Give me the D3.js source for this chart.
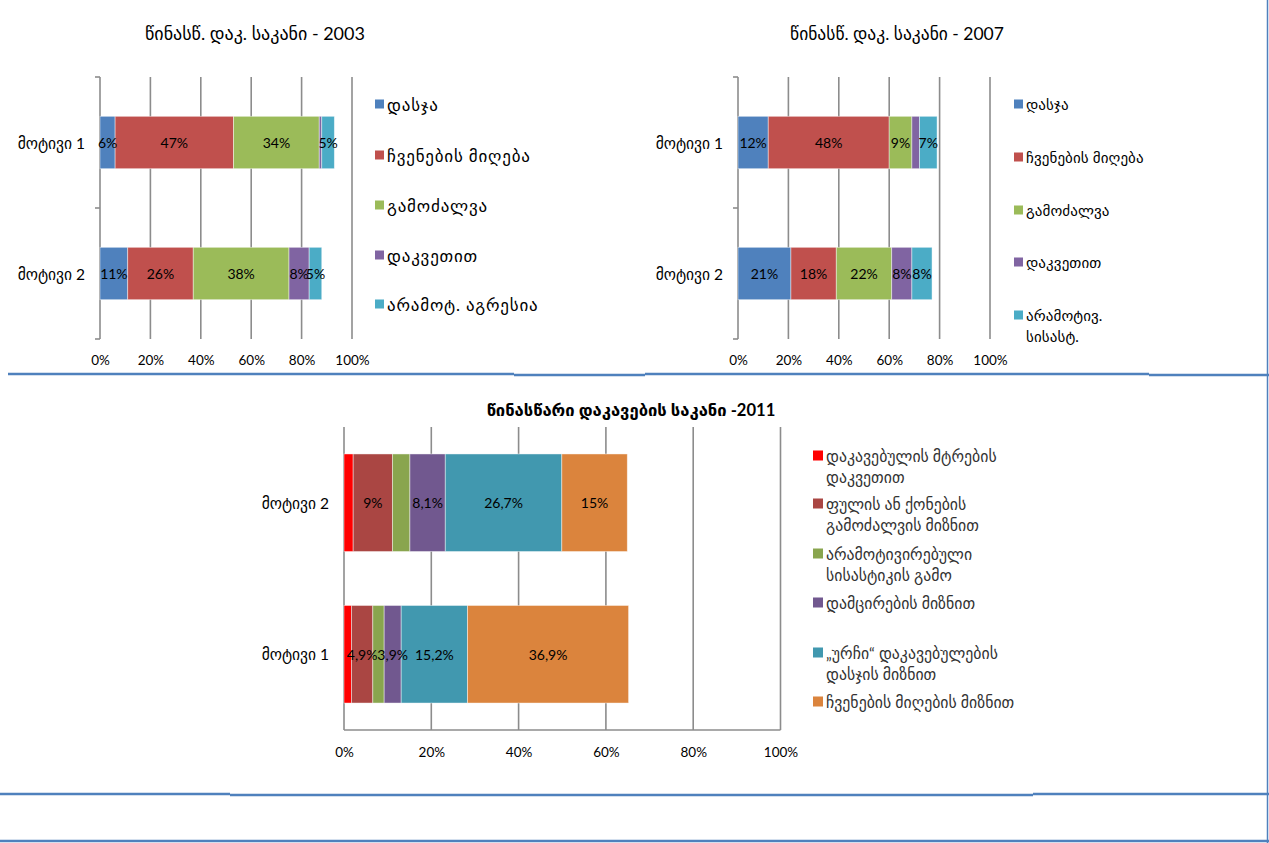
<!DOCTYPE html>
<html>
<head>
<meta charset="utf-8">
<script src="https://cdn.jsdelivr.net/npm/d3@7"></script>
<style>
  html, body { margin: 0; padding: 0; background: #fff; }
  svg { display: block; }
  text { font-family: Lato, "DejaVu Sans", sans-serif; }
</style>
</head>
<body>
<svg id="page" width="1269" height="843"></svg>
<script>
// ---- data ----
const categories = ["მოტივი 1", "მოტივი 2"];
const tickValues = [0, 20, 40, 60, 80, 100];

// 2003
const title2003 = "წინასწ. დაკ. საკანი - 2003";
const series2003 = [["დასჯა"], ["ჩვენების მიღება"], ["გამოძალვა"], ["დაკვეთით"], ["არამოტ. აგრესია"]];
const motive1_2003 = [6, 47, 34, 1, 5];
const motive2_2003 = [11, 26, 38, 8, 5];
const shown1_2003 = [true, true, true, false, true];
const shown2_2003 = [true, true, true, true, true];

// 2007
const title2007 = "წინასწ. დაკ. საკანი - 2007";
const series2007 = [["დასჯა"], ["ჩვენების მიღება"], ["გამოძალვა"], ["დაკვეთით"], ["არამოტივ.", "სისასტ."]];
const motive1_2007 = [12, 48, 9, 3, 7];
const motive2_2007 = [21, 18, 22, 8, 8];
const shown1_2007 = [true, true, true, false, true];
const shown2_2007 = [true, true, true, true, true];

// 2011
const title2011 = "წინასწარი დაკავების საკანი -2011";
const categories2011 = ["მოტივი 2", "მოტივი 1"];
const series2011 = [
  ["დაკავებულის მტრების", "დაკვეთით"],
  ["ფულის ან ქონების", "გამოძალვის მიზნით"],
  ["არამოტივირებული", "სისასტიკის გამო"],
  ["დამცირების მიზნით"],
  ["„ურჩი“ დაკავებულების", "დასჯის მიზნით"],
  ["ჩვენების მიღების მიზნით"]
];
const motive1_2011 = [1.7, 4.9, 2.6, 3.9, 15.2, 36.9];
const motive2_2011 = [2.1, 9, 4, 8.1, 26.7, 15];
const shown1_2011 = [false, true, false, true, true, true];
const shown2_2011 = [false, true, false, true, true, true];

const colors5 = ["#4F81BD", "#C0504D", "#9BBB59", "#8064A2", "#4BACC6"];
const colors6 = ["#FF0000", "#AA4643", "#89A54E", "#71588F", "#4198AF", "#DB843D"];

const svg = d3.select("#page");
const GRID = "#8c8c8c";

function fmt(v) { return String(v).replace(".", ",") + "%"; }

function stackRows(cats, rows, shown) {
  // rows[i] = values of category i across series
  const out = [];
  cats.forEach((c, i) => {
    let acc = 0;
    rows[i].forEach((v, s) => {
      out.push({ cat: c, s, x0: acc, x1: acc + v, v, shown: shown[i][s] });
      acc += v;
    });
  });
  return out;
}

function drawChart(o) {
  const g = svg.append("g");
  const x = d3.scaleLinear().domain([0, 100]).range([o.x0, o.x1]);
  const y = d3.scaleBand().domain(o.cats).range([o.y0, o.y1])
    .paddingInner(o.padIn).paddingOuter(o.padIn / 2);

  // vertical gridlines
  g.append("g").selectAll("line").data(tickValues.slice(1)).join("line")
    .attr("x1", d => x(d)).attr("x2", d => x(d))
    .attr("y1", o.y0).attr("y2", o.y1)
    .attr("stroke", GRID).attr("stroke-width", 1.6);

  // category axis line + boundary ticks
  g.append("line").attr("x1", x(0)).attr("x2", x(0)).attr("y1", o.y0).attr("y2", o.y1)
    .attr("stroke", GRID).attr("stroke-width", 1.6);
  if (o.catTicks) {
    const bounds = d3.range(o.cats.length + 1).map(i => o.y0 + i * (o.y1 - o.y0) / o.cats.length);
    g.append("g").selectAll("line").data(bounds).join("line")
      .attr("x1", x(0) - 5).attr("x2", x(0)).attr("y1", d => d).attr("y2", d => d)
      .attr("stroke", GRID).attr("stroke-width", 1.6);
  }
  if (o.baseLine) {
    g.append("line").attr("x1", x(0)).attr("x2", x(100)).attr("y1", o.y1).attr("y2", o.y1)
      .attr("stroke", GRID).attr("stroke-width", 1.6);
  }

  // stacked bars
  const segs = stackRows(o.cats, o.rows, o.shown);
  g.append("g").selectAll("rect").data(segs).join("rect")
    .attr("x", d => x(d.x0)).attr("width", d => x(d.x1) - x(d.x0))
    .attr("y", d => y(d.cat)).attr("height", y.bandwidth())
    .attr("fill", d => o.colors[d.s])
    .attr("stroke", "rgba(255,255,255,0.55)").attr("stroke-width", 0.8);

  g.append("g").selectAll("text").data(segs.filter(d => d.shown)).join("text")
    .attr("x", d => x((d.x0 + d.x1) / 2)).attr("y", d => y(d.cat) + y.bandwidth() / 2)
    .attr("text-anchor", "middle").attr("dominant-baseline", "central")
    .attr("font-size", 14).attr("fill", "#000")
    .text(d => fmt(d.v));

  // x axis labels
  const ax = d3.axisBottom(x).tickValues(tickValues).tickFormat(d => d + "%").tickSize(0).tickPadding(0);
  const axg = g.append("g").attr("transform", `translate(0,${o.tickY})`).call(ax);
  axg.select(".domain").remove();
  axg.selectAll("text").attr("font-size", 13.5).attr("fill", "#000")
    .attr("dy", null).attr("dominant-baseline", "central").attr("font-family", null);

  // category labels
  const ay = d3.axisLeft(y).tickSize(0).tickPadding(0);
  const ayg = g.append("g").attr("transform", `translate(${o.catX},0)`).call(ay);
  ayg.select(".domain").remove();
  ayg.selectAll("text").attr("font-size", 15.5).attr("fill", "#000")
    .attr("dy", null).attr("dominant-baseline", "central").attr("font-family", null);

  // title
  g.append("text").attr("x", o.titleX).attr("y", o.titleY)
    .attr("text-anchor", "middle").attr("dominant-baseline", "central")
    .attr("font-size", o.titleSize).attr("font-weight", o.titleWeight || "normal")
    .attr("letter-spacing", o.titleSpacing || 0)
    .attr("fill", "#000").text(o.title);

  // legend
  const lg = g.append("g").selectAll("g").data(o.legend).join("g")
    .attr("transform", (d, i) => `translate(${o.legX},${o.legY[i]})`);
  lg.append("rect").attr("x", 0).attr("y", -4.5).attr("width", o.sw).attr("height", o.sw)
    .attr("fill", (d, i) => o.colors[i]);
  lg.each(function (lines) {
    const t = d3.select(this).append("text").attr("x", o.sw + 3)
      .attr("font-size", o.legSize).attr("letter-spacing", o.legSpacing)
      .attr("fill", o.legColor);
    lines.forEach((ln, k) => {
      t.append("tspan").attr("x", o.sw + 3).attr("y", k * o.legLine)
        .attr("dominant-baseline", "central").text(ln);
    });
  });
}

drawChart({
  x0: 100, x1: 352, y0: 77, y1: 339, cats: categories, padIn: 0.6,
  rows: [motive1_2003, motive2_2003], shown: [shown1_2003, shown2_2003],
  colors: colors5, catTicks: true, tickY: 360, catX: 85,
  title: title2003, titleX: 255, titleY: 33, titleSize: 18,
  legend: series2003, legX: 375, legY: [104, 155, 205, 255, 304], sw: 9,
  legSize: 17, legSpacing: 0.8, legColor: "#000", legLine: 20
});

drawChart({
  x0: 738, x1: 990, y0: 77, y1: 339, cats: categories, padIn: 0.6,
  rows: [motive1_2007, motive2_2007], shown: [shown1_2007, shown2_2007],
  colors: colors5, catTicks: true, tickY: 360, catX: 723,
  title: title2007, titleX: 897, titleY: 33, titleSize: 17.5,
  legend: series2007, legX: 1014, legY: [104, 157, 210, 262, 315], sw: 9,
  legSize: 15, legSpacing: 0.1, legColor: "#000", legLine: 21
});

drawChart({
  x0: 344, x1: 780.5, y0: 427, y1: 730, cats: categories2011, padIn: 0.356,
  rows: [motive2_2011, motive1_2011], shown: [shown2_2011, shown1_2011],
  colors: colors6, catTicks: false, baseLine: true, tickY: 752, catX: 329,
  title: title2011, titleX: 631, titleY: 410, titleSize: 16.6, titleWeight: "bold",
  titleSpacing: 0,
  legend: series2011, legX: 813, legY: [455, 503, 553, 602, 652, 701], sw: 10,
  legSize: 15.8, legSpacing: 0, legColor: "#333", legLine: 21
});

// page frame rules
const rules = [
  [8, 514, 374], [514, 645, 375], [645, 1149, 374], [1149, 1269, 375],
  [0, 230, 794], [230, 1033, 795], [1033, 1269, 794], [0, 1269, 841]
];
svg.append("g").selectAll("line").data(rules).join("line")
  .attr("x1", d => d[0]).attr("x2", d => d[1]).attr("y1", d => d[2]).attr("y2", d => d[2])
  .attr("stroke", "#4F81BD").attr("stroke-width", 2.5);
svg.append("line").attr("x1", 1267.5).attr("x2", 1267.5).attr("y1", 0).attr("y2", 843)
  .attr("stroke", "#4F81BD").attr("stroke-width", 1.5);
</script>
</body>
</html>
